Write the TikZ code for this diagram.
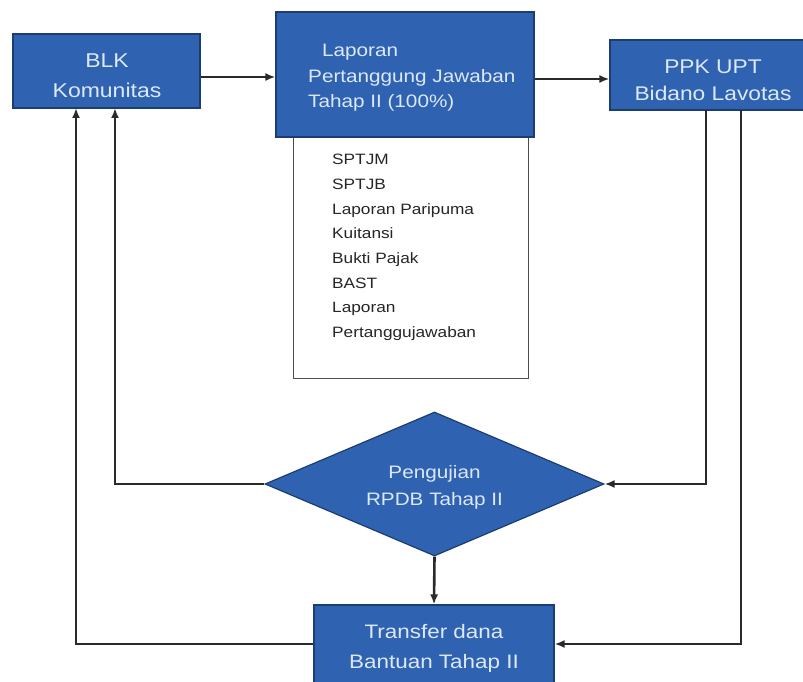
\documentclass[tikz,border=0pt]{standalone}
\usepackage{fontspec}
\setmainfont{Liberation Sans}[FakeStretch=1.15]
\usetikzlibrary{shapes.geometric,arrows.meta}
\definecolor{boxblue}{HTML}{2F63B2}
\definecolor{boxedge}{HTML}{1C3D70}
\definecolor{boxtext}{HTML}{DCE8F6}
\definecolor{linegray}{HTML}{2A2A2A}
\tikzset{
  bluebox/.style={draw=boxedge, line width=1.2pt, fill=boxblue, inner sep=0pt},
  boxlabel/.style={text=boxtext, align=center, inner sep=0pt},
  listbox/.style={draw=black!70, line width=1pt, fill=white, inner sep=0pt},
  conn/.style={draw=linegray, line width=2.6pt, -{Latex[length=10pt,width=8pt]}},
}
\begin{document}
\begin{tikzpicture}[x=1pt,y=-1pt]
\useasboundingbox (0,0) rectangle (803,682);
\clip (0,0) rectangle (803,682);
\fill[white] (0,0) rectangle (803,682);
% list box (under report box)
\node[listbox, minimum width=235pt, minimum height=248pt] (list) at (410.5,254) {};
\node[anchor=north west, inner sep=0pt, align=left, font=\fontsize{15pt}{24.7pt}\selectfont, text=black!85] (listtext) at (332,154)
  {SPTJM\\SPTJB\\Laporan Paripuma\\Kuitansi\\Bukti Pajak\\BAST\\Laporan\\Pertanggujawaban};
% main boxes
\node[bluebox, minimum width=187pt, minimum height=74pt] (blk) at (106.5,71) {};
\node[boxlabel, font=\fontsize{20pt}{30pt}\selectfont] (blktxt) at (107,76) {BLK\\Komunitas};
\node[bluebox, minimum width=258pt, minimum height=125pt] (lap) at (405,74.5) {};
\node[boxlabel, align=left, anchor=west, font=\fontsize{18pt}{25.5pt}\selectfont] (laptxt) at (308,78)
  {\hspace*{14pt}Laporan\\Pertanggung Jawaban\\Tahap II (100\%)};
\node[bluebox, minimum width=206pt, minimum height=70pt] (ppk) at (713,75) {};
\node[boxlabel, font=\fontsize{19.8pt}{27pt}\selectfont] (ppktxt) at (713,80) {PPK UPT\\Bidano Lavotas};
\node[bluebox, diamond, aspect=2.35, minimum width=339pt, minimum height=144pt] (uji) at (434.5,484) {};
\node[boxlabel, font=\fontsize{18pt}{27pt}\selectfont] (ujitxt) at (434.5,487) {Pengujian\\RPDB Tahap II};
\node[bluebox, minimum width=240pt, minimum height=90pt] (tf) at (434,650) {};
\node[boxlabel, font=\fontsize{19.5pt}{30pt}\selectfont] (tftxt) at (434,648) {Transfer dana\\Bantuan Tahap II};
% helper coordinates
\coordinate (blkA) at (76,108);
\coordinate (blkB) at (115,108);
\coordinate (ppkA) at (706,110);
\coordinate (ppkB) at (741,110);
% connectors
\draw[conn] (blk.east |- 0,77) -- (lap.west |- 0,77);
\draw[conn] (lap.east |- 0,79) -- (ppk.west |- 0,79);
\draw[conn] (uji.west) -| (blkB);
\draw[conn] (tf.west |- 0,644) -| (blkA);
\draw[conn] (ppkA) |- (uji.east);
\draw[conn] (ppkB) |- (tf.east |- 0,644);
\draw[conn] (uji.south) -- (tf.north);
\end{tikzpicture}
\end{document}
